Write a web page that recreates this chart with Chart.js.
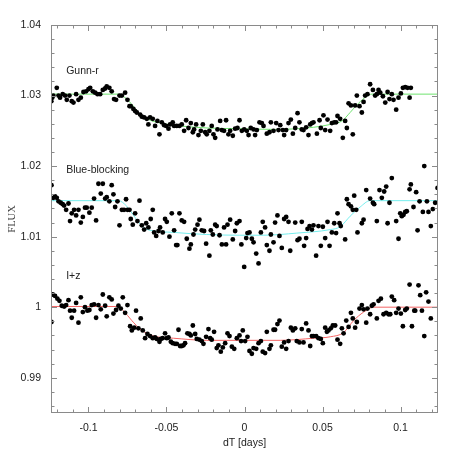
<!DOCTYPE html>
<html>
<head>
<meta charset="utf-8">
<script src="https://cdn.jsdelivr.net/npm/chart.js@4"></script>
<style>
  body { margin: 0; background: #fff; }
  canvas { display: block; }
</style>
</head>
<body>
<canvas id="lc" width="463" height="463"></canvas>
<script>
// axis ticks
const xTicks = [-0.1, -0.05, 0, 0.05, 0.1];
const yTicks = [0.99, 1, 1.01, 1.02, 1.03, 1.04];

// filter names + where their labels sit (data coords)
const filterNames = ['Gunn-r', 'Blue-blocking', 'I+z'];
const labelDT = [-0.1143, -0.1143, -0.1143];
const labelFlux = [1.0335, 1.0194, 1.0044];

// Gunn-r photometry
const gunnDT = [-0.1238, -0.1232, -0.1225, -0.1203, -0.1192, -0.1182, -0.1165, -0.1150, -0.1139, -0.1122,
  -0.1107, -0.1096, -0.1079, -0.1064, -0.1049, -0.1032, -0.1015, -0.1000, -0.0989, -0.0972,
  -0.0957, -0.0942, -0.0925, -0.0908, -0.0893, -0.0883, -0.0866, -0.0851, -0.0836, -0.0823,
  -0.0801, -0.0786, -0.0765, -0.0750, -0.0737, -0.0729, -0.0712, -0.0701, -0.0690, -0.0669,
  -0.0658, -0.0643, -0.0626, -0.0616, -0.0605, -0.0588, -0.0573, -0.0558, -0.0545, -0.0530,
  -0.0515, -0.0502, -0.0487, -0.0477, -0.0460, -0.0451, -0.0434, -0.0417, -0.0402, -0.0387,
  -0.0374, -0.0359, -0.0344, -0.0331, -0.0323, -0.0310, -0.0295, -0.0280, -0.0267, -0.0252,
  -0.0242, -0.0225, -0.0210, -0.0199, -0.0188, -0.0173, -0.0156, -0.0145, -0.0131, -0.0118,
  -0.0103, -0.0092, -0.0075, -0.0060, -0.0045, -0.0032, -0.0017, -0.0002, 0.0015, 0.0026,
  0.0040, 0.0058, 0.0068, 0.0079, 0.0096, 0.0111, 0.0122, 0.0143, 0.0160, 0.0169,
  0.0186, 0.0203, 0.0218, 0.0229, 0.0246, 0.0254, 0.0267, 0.0282, 0.0297, 0.0310,
  0.0325, 0.0340, 0.0352, 0.0367, 0.0378, 0.0395, 0.0410, 0.0421, 0.0432, 0.0442,
  0.0464, 0.0481, 0.0489, 0.0506, 0.0517, 0.0532, 0.0549, 0.0560, 0.0575, 0.0587,
  0.0596, 0.0613, 0.0630, 0.0645, 0.0656, 0.0667, 0.0682, 0.0694, 0.0709, 0.0720,
  0.0737, 0.0752, 0.0763, 0.0773, 0.0788, 0.0805, 0.0823, 0.0837, 0.0848, 0.0859,
  0.0870, 0.0887, 0.0902, 0.0917, 0.0929, 0.0944, 0.0955, 0.0972, 0.0987, 0.1002,
  0.1015, 0.1030, 0.1045, 0.1058, 0.1066];
const gunnFlux = [1.0292, 1.0297, 1.0300, 1.0311, 1.0300, 1.0297, 1.0302, 1.0300, 1.0294, 1.0300,
  1.0292, 1.0290, 1.0302, 1.0294, 1.0297, 1.0305, 1.0306, 1.0309, 1.0311, 1.0306,
  1.0304, 1.0302, 1.0302, 1.0308, 1.0310, 1.0313, 1.0311, 1.0306, 1.0295, 1.0294,
  1.0300, 1.0300, 1.0304, 1.0294, 1.0285, 1.0285, 1.0281, 1.0278, 1.0276, 1.0273,
  1.0270, 1.0269, 1.0267, 1.0259, 1.0269, 1.0267, 1.0257, 1.0264, 1.0245, 1.0262,
  1.0258, 1.0257, 1.0253, 1.0259, 1.0262, 1.0257, 1.0257, 1.0257, 1.0259, 1.0250,
  1.0265, 1.0254, 1.0261, 1.0248, 1.0252, 1.0259, 1.0244, 1.0250, 1.0259, 1.0248,
  1.0245, 1.0250, 1.0257, 1.0245, 1.0240, 1.0252, 1.0264, 1.0251, 1.0250, 1.0265,
  1.0245, 1.0250, 1.0243, 1.0253, 1.0254, 1.0265, 1.0250, 1.0252, 1.0250, 1.0244,
  1.0254, 1.0252, 1.0244, 1.0251, 1.0262, 1.0261, 1.0257, 1.0246, 1.0248, 1.0262,
  1.0250, 1.0261, 1.0251, 1.0258, 1.0251, 1.0244, 1.0251, 1.0261, 1.0266, 1.0246,
  1.0254, 1.0275, 1.0262, 1.0252, 1.0251, 1.0255, 1.0244, 1.0259, 1.0261, 1.0262,
  1.0246, 1.0265, 1.0254, 1.0272, 1.0251, 1.0266, 1.0250, 1.0261, 1.0262, 1.0262,
  1.0271, 1.0267, 1.0240, 1.0264, 1.0254, 1.0289, 1.0286, 1.0245, 1.0286, 1.0300,
  1.0285, 1.0276, 1.0291, 1.0300, 1.0302, 1.0316, 1.0308, 1.0300, 1.0302, 1.0308,
  1.0304, 1.0299, 1.0290, 1.0305, 1.0295, 1.0302, 1.0294, 1.0280, 1.0297, 1.0303,
  1.0311, 1.0312, 1.0311, 1.0297, 1.0311];

// Blue-blocking photometry
const blueDT = [-0.1237, -0.1225, -0.1214, -0.1203, -0.1192, -0.1178, -0.1165, -0.1156, -0.1143, -0.1128,
  -0.1118, -0.1107, -0.1092, -0.1079, -0.1064, -0.1049, -0.1036, -0.1022, -0.1011, -0.0994,
  -0.0979, -0.0964, -0.0951, -0.0936, -0.0921, -0.0908, -0.0893, -0.0883, -0.0866, -0.0851,
  -0.0840, -0.0829, -0.0814, -0.0801, -0.0786, -0.0772, -0.0759, -0.0750, -0.0737, -0.0729,
  -0.0716, -0.0701, -0.0686, -0.0673, -0.0658, -0.0643, -0.0630, -0.0616, -0.0601, -0.0588,
  -0.0579, -0.0566, -0.0551, -0.0541, -0.0524, -0.0509, -0.0498, -0.0481, -0.0466, -0.0451,
  -0.0438, -0.0430, -0.0417, -0.0402, -0.0387, -0.0370, -0.0353, -0.0344, -0.0327, -0.0316,
  -0.0301, -0.0289, -0.0274, -0.0259, -0.0246, -0.0225, -0.0216, -0.0203, -0.0188, -0.0178,
  -0.0160, -0.0145, -0.0131, -0.0118, -0.0109, -0.0092, -0.0075, -0.0060, -0.0049, -0.0032,
  -0.0020, -0.0002, 0.0011, 0.0019, 0.0032, 0.0047, 0.0058, 0.0075, 0.0090, 0.0105,
  0.0117, 0.0132, 0.0143, 0.0160, 0.0169, 0.0186, 0.0196, 0.0211, 0.0224, 0.0239,
  0.0254, 0.0267, 0.0282, 0.0293, 0.0325, 0.0340, 0.0352, 0.0367, 0.0382, 0.0395,
  0.0404, 0.0417, 0.0432, 0.0442, 0.0459, 0.0474, 0.0489, 0.0502, 0.0517, 0.0532,
  0.0545, 0.0560, 0.0575, 0.0587, 0.0596, 0.0609, 0.0617, 0.0645, 0.0656, 0.0667,
  0.0682, 0.0694, 0.0703, 0.0716, 0.0724, 0.0752, 0.0763, 0.0780, 0.0805, 0.0823,
  0.0831, 0.0848, 0.0865, 0.0880, 0.0895, 0.0908, 0.0917, 0.0929, 0.0944, 0.0972,
  0.0987, 0.0998, 0.1008, 0.1019, 0.1030, 0.1040, 0.1058, 0.1066, 0.1083, 0.1100,
  0.1109, 0.1122, 0.1143, 0.1152, 0.1169, 0.1179, 0.1194, 0.1207, 0.1222, 0.1237];
const blueFlux = [1.0173, 1.0155, 1.0157, 1.0155, 1.0150, 1.0148, 1.0146, 1.0144, 1.0138, 1.0147,
  1.0122, 1.0133, 1.0138, 1.0130, 1.0138, 1.0120, 1.0128, 1.0141, 1.0141, 1.0134,
  1.0141, 1.0154, 1.0123, 1.0175, 1.0161, 1.0175, 1.0154, 1.0156, 1.0150, 1.0173,
  1.0160, 1.0142, 1.0150, 1.0116, 1.0138, 1.0138, 1.0153, 1.0138, 1.0138, 1.0125,
  1.0117, 1.0133, 1.0122, 1.0151, 1.0116, 1.0110, 1.0119, 1.0113, 1.0125, 1.0138,
  1.0106, 1.0101, 1.0108, 1.0113, 1.0106, 1.0125, 1.0121, 1.0100, 1.0133, 1.0109,
  1.0088, 1.0088, 1.0133, 1.0123, 1.0121, 1.0097, 1.0083, 1.0089, 1.0103, 1.0110,
  1.0117, 1.0124, 1.0109, 1.0108, 1.0090, 1.0073, 1.0109, 1.0103, 1.0117, 1.0115,
  1.0102, 1.0089, 1.0113, 1.0089, 1.0117, 1.0124, 1.0096, 1.0108, 1.0119, 1.0122,
  1.0089, 1.0057, 1.0098, 1.0105, 1.0106, 1.0097, 1.0092, 1.0076, 1.0062, 1.0106,
  1.0121, 1.0113, 1.0088, 1.0080, 1.0103, 1.0092, 1.0120, 1.0130, 1.0101, 1.0084,
  1.0125, 1.0128, 1.0121, 1.0080, 1.0120, 1.0095, 1.0097, 1.0121, 1.0087, 1.0098,
  1.0111, 1.0115, 1.0110, 1.0116, 1.0073, 1.0115, 1.0087, 1.0114, 1.0098, 1.0121,
  1.0087, 1.0106, 1.0119, 1.0105, 1.0133, 1.0119, 1.0115, 1.0096, 1.0153, 1.0146,
  1.0143, 1.0138, 1.0158, 1.0138, 1.0106, 1.0119, 1.0124, 1.0166, 1.0154, 1.0148,
  1.0146, 1.0122, 1.0166, 1.0155, 1.0164, 1.0171, 1.0119, 1.0148, 1.0183, 1.0122,
  1.0097, 1.0133, 1.0129, 1.0131, 1.0135, 1.0136, 1.0167, 1.0174, 1.0142, 1.0163,
  1.0109, 1.0150, 1.0135, 1.0200, 1.0150, 1.0135, 1.0115, 1.0139, 1.0148, 1.0169];

// I+z photometry
const izDT = [-0.1237, -0.1229, -0.1214, -0.1199, -0.1186, -0.1171, -0.1156, -0.1143, -0.1128, -0.1118,
  -0.1107, -0.1092, -0.1079, -0.1064, -0.1049, -0.1036, -0.1022, -0.1007, -0.0994, -0.0979,
  -0.0964, -0.0951, -0.0936, -0.0921, -0.0908, -0.0893, -0.0883, -0.0866, -0.0851, -0.0840,
  -0.0823, -0.0808, -0.0793, -0.0780, -0.0765, -0.0750, -0.0733, -0.0722, -0.0707, -0.0695,
  -0.0680, -0.0665, -0.0652, -0.0637, -0.0622, -0.0605, -0.0588, -0.0573, -0.0562, -0.0545,
  -0.0536, -0.0524, -0.0509, -0.0498, -0.0487, -0.0472, -0.0460, -0.0445, -0.0434, -0.0423,
  -0.0413, -0.0402, -0.0391, -0.0381, -0.0366, -0.0353, -0.0344, -0.0331, -0.0316, -0.0306,
  -0.0289, -0.0274, -0.0263, -0.0246, -0.0231, -0.0220, -0.0210, -0.0195, -0.0178, -0.0167,
  -0.0152, -0.0139, -0.0124, -0.0109, -0.0096, -0.0081, -0.0066, -0.0049, -0.0032, -0.0022,
  -0.0011, 0.0004, 0.0019, 0.0032, 0.0047, 0.0058, 0.0075, 0.0090, 0.0105, 0.0117,
  0.0132, 0.0143, 0.0160, 0.0169, 0.0186, 0.0196, 0.0211, 0.0224, 0.0239, 0.0254,
  0.0267, 0.0282, 0.0297, 0.0310, 0.0325, 0.0335, 0.0352, 0.0367, 0.0378, 0.0395,
  0.0410, 0.0421, 0.0432, 0.0442, 0.0459, 0.0474, 0.0489, 0.0502, 0.0517, 0.0528,
  0.0538, 0.0553, 0.0566, 0.0581, 0.0596, 0.0613, 0.0624, 0.0635, 0.0652, 0.0667,
  0.0682, 0.0694, 0.0709, 0.0720, 0.0737, 0.0752, 0.0763, 0.0780, 0.0788, 0.0805,
  0.0816, 0.0827, 0.0848, 0.0859, 0.0874, 0.0891, 0.0908, 0.0923, 0.0934, 0.0944,
  0.0959, 0.0972, 0.0987, 0.1002, 0.1015, 0.1030, 0.1040, 0.1058, 0.1073, 0.1088,
  0.1094, 0.1115, 0.1126, 0.1137, 0.1152, 0.1164, 0.1179, 0.1194];
const izFlux = [0.9979, 1.0018, 1.0016, 1.0012, 1.0009, 1.0002, 1.0001, 1.0003, 1.0010, 0.9995,
  0.9985, 0.9995, 1.0006, 0.9978, 1.0014, 0.9993, 1.0000, 0.9995, 0.9996, 1.0003,
  1.0004, 0.9985, 1.0003, 0.9997, 1.0018, 1.0002, 0.9987, 1.0014, 1.0011, 0.9991,
  0.9996, 1.0002, 0.9998, 1.0014, 0.9992, 1.0003, 0.9973, 0.9967, 0.9971, 0.9995,
  0.9970, 0.9984, 0.9967, 0.9956, 0.9962, 0.9959, 0.9956, 0.9957, 0.9955, 0.9951,
  0.9955, 0.9956, 0.9963, 0.9956, 0.9957, 0.9951, 0.9949, 0.9948, 0.9948, 0.9968,
  0.9945, 0.9945, 0.9946, 0.9949, 0.9963, 0.9962, 0.9960, 0.9974, 0.9962, 0.9955,
  0.9954, 0.9952, 0.9948, 0.9958, 0.9969, 0.9956, 0.9954, 0.9965, 0.9942, 0.9946,
  0.9937, 0.9943, 0.9949, 0.9963, 0.9959, 0.9944, 0.9941, 0.9956, 0.9960, 0.9952,
  0.9967, 0.9952, 0.9958, 0.9938, 0.9934, 0.9942, 0.9941, 0.9949, 0.9952, 0.9937,
  0.9935, 0.9965, 0.9941, 0.9946, 0.9968, 0.9968, 0.9976, 0.9981, 0.9944, 0.9950,
  0.9941, 0.9952, 0.9971, 0.9967, 0.9970, 0.9952, 0.9950, 0.9969, 0.9950, 0.9977,
  0.9967, 0.9945, 0.9959, 0.9959, 0.9959, 0.9956, 0.9955, 0.9949, 0.9971, 0.9965,
  0.9967, 0.9970, 0.9974, 0.9974, 0.9954, 0.9948, 0.9970, 0.9963, 0.9981, 0.9972,
  0.9992, 0.9984, 0.9971, 0.9979, 0.9998, 1.0003, 0.9997, 0.9978, 0.9998, 0.9990,
  1.0002, 1.0004, 0.9984, 1.0009, 1.0012, 0.9990, 0.9992, 0.9990, 0.9990, 1.0015,
  1.0010, 0.9992, 0.9998, 0.9991, 0.9973, 0.9996, 0.9998, 1.0032, 0.9973, 0.9995,
  0.9995, 1.0031, 1.0017, 0.9995, 0.9959, 1.0021, 1.0008, 0.9984];

// transit model curves
const gunnModelDT = [-0.124, -0.081, -0.0765, -0.0712, -0.0669, -0.0626, -0.056, -0.0455, -0.024, -0.003,
  0.02, 0.0442, 0.0549, 0.0624, 0.0677, 0.073, 0.0784, 0.0816, 0.124];
const gunnModelFlux = [1.0302, 1.0302, 1.0297, 1.0285, 1.0273, 1.0267, 1.0262, 1.0258, 1.0254, 1.0253,
  1.0252, 1.0255, 1.0259, 1.0264, 1.0276, 1.0289, 1.0299, 1.0302, 1.0302];
const blueModelDT = [-0.124, -0.0808, -0.0754, -0.0701, -0.0648, -0.0605, -0.0455, -0.0242, -0.003, 0.012,
  0.0335, 0.0549, 0.0613, 0.0677, 0.0741, 0.0805, 0.124];
const blueModelFlux = [1.0151, 1.0151, 1.0143, 1.0127, 1.0113, 1.0109, 1.0106, 1.0103, 1.0102, 1.0102,
  1.0105, 1.0110, 1.0114, 1.0129, 1.0142, 1.0151, 1.0151];
const izModelDT = [-0.124, -0.0808, -0.0776, -0.0722, -0.0669, -0.0616, -0.0562, -0.0455, -0.0242, -0.003,
  0.023, 0.0442, 0.0549, 0.0635, 0.0699, 0.0763, 0.0827, 0.124];
const izModelFlux = [1.0001, 1.0001, 0.9995, 0.9981, 0.9969, 0.9962, 0.9958, 0.9956, 0.9953, 0.9953,
  0.9953, 0.9956, 0.9958, 0.9964, 0.9981, 0.9993, 1.0000, 1.0000];

const pairs = (xs, ys) => xs.map((x, i) => ({ x: x, y: ys[i] }));

const axisGrey = '#8a8a8a';
const sans = "'Liberation Sans', Arial, sans-serif";

function dots(data) {
  return { type: 'scatter', data: data, pointRadius: 2.4, pointBackgroundColor: '#000',
           pointBorderWidth: 0, showLine: false };
}
function model(data, colour) {
  return { type: 'line', data: data, borderColor: colour, borderWidth: 1, pointRadius: 0,
           fill: false, cubicInterpolationMode: 'monotone' };
}

// frame with inward ticks on all four sides + the filter names
const framePlugin = {
  id: 'frame',
  afterDatasetsDraw(chart) {
    const { ctx, chartArea: a, scales: { x, y } } = chart;
    ctx.save();
    ctx.strokeStyle = axisGrey;
    ctx.lineWidth = 1;
    ctx.strokeRect(a.left + 0.5, a.top + 0.5, a.right - a.left - 1, a.bottom - a.top - 1);
    ctx.beginPath();
    for (let k = -12; k <= 12; k++) {
      const px = Math.round(x.getPixelForValue(k / 100)) + 0.5;
      const len = k % 5 === 0 ? 6 : 3.5;
      ctx.moveTo(px, a.bottom); ctx.lineTo(px, a.bottom - len);
      ctx.moveTo(px, a.top); ctx.lineTo(px, a.top + len);
    }
    for (let k = 493; k <= 520; k++) {
      const py = Math.round(y.getPixelForValue(k / 500)) + 0.5;
      const len = k % 5 === 0 ? 6 : 3.5;
      ctx.moveTo(a.left, py); ctx.lineTo(a.left + len, py);
      ctx.moveTo(a.right, py); ctx.lineTo(a.right - len, py);
    }
    ctx.stroke();
    ctx.fillStyle = '#222';
    ctx.font = '10.5px ' + sans;
    ctx.textAlign = 'left';
    ctx.textBaseline = 'middle';
    filterNames.forEach((name, i) => {
      ctx.fillText(name, x.getPixelForValue(labelDT[i]), y.getPixelForValue(labelFlux[i]));
    });
    ctx.restore();
  }
};

new Chart(document.getElementById('lc'), {
  data: {
    datasets: [
      dots(pairs(gunnDT, gunnFlux)),
      dots(pairs(blueDT, blueFlux)),
      dots(pairs(izDT, izFlux)),
      model(pairs(gunnModelDT, gunnModelFlux), '#6fe36f'),
      model(pairs(blueModelDT, blueModelFlux), '#74eeee'),
      model(pairs(izModelDT, izModelFlux), '#f46464')
    ]
  },
  options: {
    responsive: false,
    animation: false,
    devicePixelRatio: 1,
    layout: { padding: { left: 0, top: 25, right: 25, bottom: 0 } },
    plugins: { legend: { display: false }, tooltip: { enabled: false } },
    scales: {
      x: {
        type: 'linear', min: -0.124, max: 0.124,
        afterBuildTicks: s => { s.ticks = xTicks.map(v => ({ value: v })); },
        afterFit: s => { s.height = 50; },
        grid: { display: false, drawTicks: false },
        border: { display: false },
        ticks: { padding: 9, color: '#222', font: { family: sans, size: 10.5 },
                 maxRotation: 0, autoSkip: false, callback: v => String(v) },
        title: { display: true, text: 'dT [days]', color: '#222',
                 font: { family: sans, size: 10.5 }, padding: { top: 4, bottom: 14 } }
      },
      y: {
        type: 'linear', min: 0.985, max: 1.04,
        afterBuildTicks: s => { s.ticks = yTicks.map(v => ({ value: v })); },
        afterFit: s => { s.width = 51; },
        grid: { display: false, drawTicks: false },
        border: { display: false },
        ticks: { padding: 10, color: '#222', font: { family: sans, size: 10.5 },
                 autoSkip: false, callback: v => String(v) },
        title: { display: true, text: 'FLUX', color: '#444',
                 font: { family: "'Liberation Serif', 'Times New Roman', serif", size: 10.5 },
                 padding: { top: 6, bottom: 0 } }
      }
    }
  },
  plugins: [framePlugin]
});
</script>
</body>
</html>
